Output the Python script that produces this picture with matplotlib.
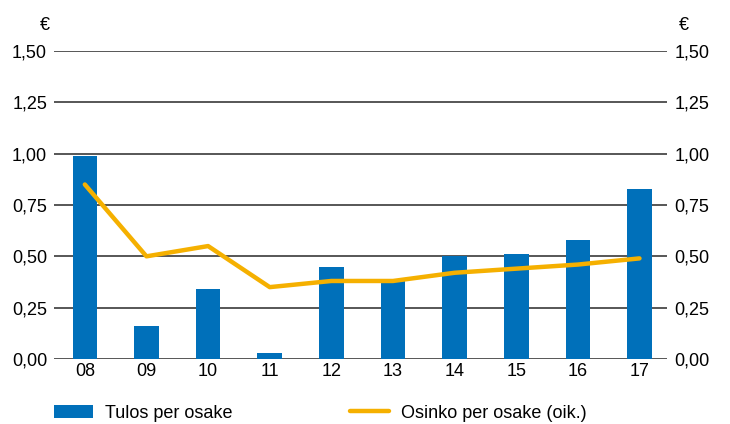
import matplotlib.pyplot as plt
from matplotlib.patches import Patch
from matplotlib.lines import Line2D

plt.rcParams['font.family'] = ['Liberation Sans', 'DejaVu Sans']

years = ['08', '09', '10', '11', '12', '13', '14', '15', '16', '17']
eps = [0.99, 0.16, 0.34, 0.03, 0.45, 0.38, 0.50, 0.51, 0.58, 0.83]
dps = [0.85, 0.50, 0.55, 0.35, 0.38, 0.38, 0.42, 0.44, 0.46, 0.49]
yticks = [0, 0.25, 0.5, 0.75, 1.0, 1.25, 1.5]
ylabels = ['0,00', '0,25', '0,50', '0,75', '1,00', '1,25', '1,50']

blue = '#0070BA'
orange = '#F5B000'
fs = 13

fig = plt.figure(figsize=(7.3, 4.24), dpi=100)
ax1 = fig.add_axes([0.074, 0.1533, 0.840, 0.7264])
ax2 = ax1.twinx()

x = list(range(len(years)))
for yv in yticks:
    ax1.axhline(yv, color='#3a3a3a', lw=1.2, zorder=1)
ax1.bar(x, eps, width=0.4, color=blue, zorder=2)
ax2.plot(x, dps, color=orange, lw=3.2, solid_capstyle='round', zorder=3)

for ax in (ax1, ax2):
    ax.set_ylim(0, 1.5)
    ax.set_xlim(-0.5, 9.45)
    ax.set_yticks(yticks)
    ax.set_yticklabels(ylabels, fontsize=fs)
    for s in ax.spines.values():
        s.set_visible(False)
    ax.tick_params(axis='y', length=0, pad=5)
ax1.set_xticks(x)
ax1.set_xticklabels(years, fontsize=fs)
ax1.tick_params(axis='x', length=0, pad=3)

fig.text(45 / 730, 1 - 25 / 424, '€', ha='center', va='center', fontsize=fs)
fig.text(684 / 730, 1 - 25 / 424, '€', ha='center', va='center', fontsize=fs)

# two separate legends so each entry sits where it does in the original
leg_kw = dict(loc='center left', frameon=False, fontsize=fs, handlelength=2.15,
              handletextpad=0.65, borderaxespad=0, borderpad=0)
fig.legend([Patch(facecolor=blue, edgecolor='none')], ['Tulos per osake'],
           bbox_to_anchor=(54 / 730, 1 - 413 / 424), **leg_kw)
fig.legend([Line2D([], [], color=orange, lw=3.2, solid_capstyle='round')],
           ['Osinko per osake (oik.)'],
           bbox_to_anchor=(350 / 730, 1 - 413 / 424), **leg_kw)

fig.savefig('out.png', dpi=100)
